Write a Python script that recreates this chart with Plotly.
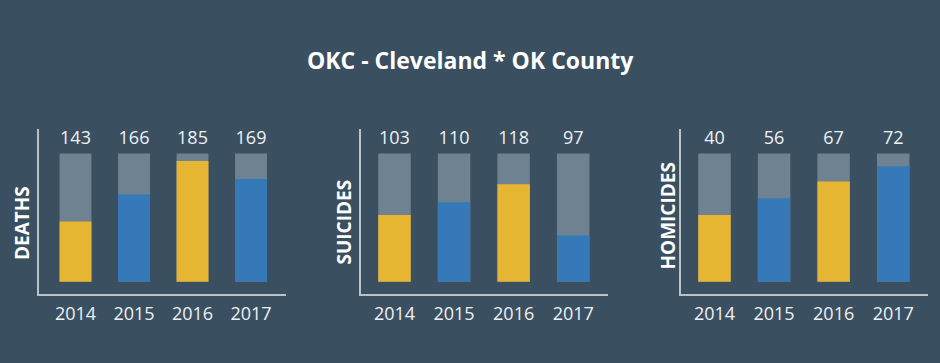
import plotly.graph_objects as go

years = ["2014", "2015", "2016", "2017"]
panels = ["DEATHS", "SUICIDES", "HOMICIDES"]
totals_deaths = [143, 166, 185, 169]
totals_suicides = [103, 110, 118, 97]
totals_homicides = [40, 56, 67, 72]
# coloured fill level (percent of bar height)
fill_deaths = [47, 68, 94, 80]
fill_suicides = [52, 62, 76, 36]
fill_homicides = [52, 65, 78, 90]
full_level = [100, 100, 100, 100]

title = "OKC - Cleveland * OK County"

BG = "#3a4f60"
GREY = "#6f8291"
YELLOW = "#e6b532"
BLUE = "#3579b8"
BAR_COLORS = [YELLOW, BLUE, YELLOW, BLUE]
TXT = "#eef1f3"
AXIS = "#b9c2c8"

W, H = 940, 363
totals = [totals_deaths, totals_suicides, totals_homicides]
fills = [fill_deaths, fill_suicides, fill_homicides]

# layout geometry (pixels)
x_dom_px = [(39, 286), (361, 607.7), (681, 927.7)]
x_ranges = [(-0.624, 3.598), (-0.562, 3.579), (-0.562, 3.579)]
y_dom_px = (294, 129)
y_range = (-9.6, 119)
label_pos = [(22, 223), (343.5, 222), (667.5, 216)]
LABEL_GAP = 4  # data units between bar top and count label

fig = go.Figure()
annotations = []
layout = {}
for i in range(3):
    sfx = "" if i == 0 else str(i + 1)
    xa, ya = "x" + sfx, "y" + sfx
    fig.add_trace(go.Bar(x=years, y=full_level, marker=dict(color=GREY, line_width=0),
                         width=0.545, xaxis=xa, yaxis=ya, hoverinfo="skip", showlegend=False))
    fig.add_trace(go.Bar(x=years, y=fills[i], marker=dict(color=BAR_COLORS, line_width=0),
                         width=0.545, xaxis=xa, yaxis=ya, showlegend=False))
    fig.add_trace(go.Scatter(x=years, y=[v + LABEL_GAP for v in full_level], mode="text",
                             text=[str(t) for t in totals[i]], textposition="top center",
                             textfont=dict(family="Open Sans", size=18, color=TXT),
                             cliponaxis=False, xaxis=xa, yaxis=ya, showlegend=False,
                             hoverinfo="skip"))
    lx, ly = label_pos[i]
    annotations.append(dict(x=lx / W, y=1 - ly / H, xref="paper", yref="paper",
                            text="<b>" + panels[i] + "</b>", textangle=-90, showarrow=False,
                            xanchor="center", yanchor="middle",
                            font=dict(family="Open Sans", size=19, color="#ffffff")))
    d0, d1 = x_dom_px[i]
    layout["xaxis" + sfx] = dict(domain=[d0 / W, d1 / W], range=list(x_ranges[i]), type="category",
                                 showline=True, linecolor=AXIS, linewidth=1.5, showgrid=False,
                                 zeroline=False, ticks="outside", ticklen=3, tickcolor="rgba(0,0,0,0)",
                                 tickfont=dict(family="Open Sans", size=18, color=TXT),
                                 anchor=ya, fixedrange=True)
    layout["yaxis" + sfx] = dict(domain=[1 - y_dom_px[0] / H, 1 - y_dom_px[1] / H], range=list(y_range),
                                 showline=True, linecolor=AXIS, linewidth=1.5, showgrid=False,
                                 zeroline=False, showticklabels=False, anchor=xa, fixedrange=True)

annotations.append(dict(x=0.5, y=1 - 60 / H, xref="paper", yref="paper", text="<b>" + title + "</b>",
                        showarrow=False, xanchor="center", yanchor="middle",
                        font=dict(family="Open Sans", size=23, color="#ffffff")))

fig.update_layout(width=W, height=H, margin=dict(l=0, r=0, t=0, b=0),
                  paper_bgcolor=BG, plot_bgcolor=BG, barmode="overlay",
                  annotations=annotations, **layout)
fig.write_html("out.html", config={"displayModeBar": False},
               post_script="document.body.style.margin='0';")
